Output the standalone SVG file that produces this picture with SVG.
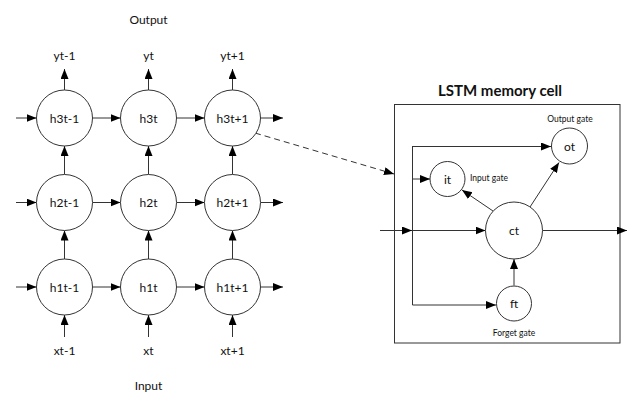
<svg xmlns="http://www.w3.org/2000/svg" width="636" height="404" viewBox="0 0 636 404">
<defs>
<marker id="ah" markerUnits="userSpaceOnUse" markerWidth="11" markerHeight="9" refX="10" refY="4" orient="auto">
<path d="M0,0 L10,4 L0,8 z" fill="#000"/>
</marker>
<style>
.n circle{fill:#fff;stroke:#333;stroke-width:1}
text{font-family:Lato,"Liberation Sans",sans-serif;fill:#111;text-anchor:middle;dominant-baseline:central}
.t{font-size:12px}
.s{font-size:8.5px}
.b{font-size:15px;font-weight:bold}
#conn line,#conn path{stroke:#333;stroke-width:1;fill:none;marker-end:url(#ah)}
#conn .p{marker-end:none}
</style>
</defs>
<rect width="636" height="404" fill="#fff"/>
<text class="t" x="148.5" y="19">Output</text>
<text class="t" x="148.5" y="385">Input</text>
<text class="t" x="64.5" y="55">yt-1</text>
<text class="t" x="148.5" y="55">yt</text>
<text class="t" x="232.5" y="55">yt+1</text>
<text class="t" x="64.5" y="350">xt-1</text>
<text class="t" x="148.5" y="350">xt</text>
<text class="t" x="232.5" y="350">xt+1</text>
<text class="b" x="500" y="90">LSTM memory cell</text>
<rect x="394.5" y="104.5" width="225.5" height="238.5" fill="none" stroke="#333"/>
<g id="conn">
<line x1="64.5" y1="90" x2="64.5" y2="69"/>
<line x1="148.5" y1="90" x2="148.5" y2="69"/>
<line x1="232.5" y1="90" x2="232.5" y2="69"/>
<line x1="64.5" y1="174.5" x2="64.5" y2="146"/>
<line x1="148.5" y1="174.5" x2="148.5" y2="146"/>
<line x1="232.5" y1="174.5" x2="232.5" y2="146"/>
<line x1="64.5" y1="259" x2="64.5" y2="230.5"/>
<line x1="148.5" y1="259" x2="148.5" y2="230.5"/>
<line x1="232.5" y1="259" x2="232.5" y2="230.5"/>
<line x1="64.5" y1="337" x2="64.5" y2="315"/>
<line x1="148.5" y1="337" x2="148.5" y2="315"/>
<line x1="232.5" y1="337" x2="232.5" y2="315"/>
<line x1="16" y1="118" x2="36.5" y2="118"/>
<line x1="92.5" y1="118" x2="120.5" y2="118"/>
<line x1="176.5" y1="118" x2="204.5" y2="118"/>
<line x1="260.5" y1="118" x2="283" y2="118"/>
<line x1="16" y1="202.5" x2="36.5" y2="202.5"/>
<line x1="92.5" y1="202.5" x2="120.5" y2="202.5"/>
<line x1="176.5" y1="202.5" x2="204.5" y2="202.5"/>
<line x1="260.5" y1="202.5" x2="283" y2="202.5"/>
<line x1="16" y1="287" x2="36.5" y2="287"/>
<line x1="92.5" y1="287" x2="120.5" y2="287"/>
<line x1="176.5" y1="287" x2="204.5" y2="287"/>
<line x1="260.5" y1="287" x2="283" y2="287"/>
<line x1="255" y1="133" x2="394" y2="174" stroke-dasharray="6,4"/>
<line x1="380" y1="230.5" x2="412" y2="230.5"/>
<line x1="412" y1="230.5" x2="485.5" y2="230.5"/>
<line x1="542.5" y1="230.5" x2="627" y2="230.5"/>
<path class="p" d="M412.5,305 L412.5,146"/>
<line x1="412.5" y1="146.5" x2="551" y2="146.5"/>
<line x1="412.5" y1="179" x2="430" y2="179"/>
<line x1="412.5" y1="305" x2="496" y2="305"/>
<line x1="493" y1="211" x2="462" y2="190"/>
<line x1="530" y1="207" x2="559" y2="162.5"/>
<line x1="514" y1="285.5" x2="514" y2="259"/>
</g>
<g id="h3t-1" class="n"><circle cx="64.5" cy="118" r="28"/><text class="t" x="64.5" y="118">h3t-1</text></g>
<g id="h3t" class="n"><circle cx="148.5" cy="118" r="28"/><text class="t" x="148.5" y="118">h3t</text></g>
<g id="h3t+1" class="n"><circle cx="232.5" cy="118" r="28"/><text class="t" x="232.5" y="118">h3t+1</text></g>
<g id="h2t-1" class="n"><circle cx="64.5" cy="202.5" r="28"/><text class="t" x="64.5" y="202.5">h2t-1</text></g>
<g id="h2t" class="n"><circle cx="148.5" cy="202.5" r="28"/><text class="t" x="148.5" y="202.5">h2t</text></g>
<g id="h2t+1" class="n"><circle cx="232.5" cy="202.5" r="28"/><text class="t" x="232.5" y="202.5">h2t+1</text></g>
<g id="h1t-1" class="n"><circle cx="64.5" cy="287" r="28"/><text class="t" x="64.5" y="287">h1t-1</text></g>
<g id="h1t" class="n"><circle cx="148.5" cy="287" r="28"/><text class="t" x="148.5" y="287">h1t</text></g>
<g id="h1t+1" class="n"><circle cx="232.5" cy="287" r="28"/><text class="t" x="232.5" y="287">h1t+1</text></g>
<g id="ct" class="n"><circle cx="514" cy="230.5" r="28.5"/><text class="t" x="514" y="230.5">ct</text></g>
<g id="it" class="n"><circle cx="447.5" cy="179" r="17.5"/><text class="t" x="447.5" y="179">it</text><text class="s" x="470" y="178" style="text-anchor:start">Input gate</text></g>
<g id="ot" class="n"><circle cx="569.5" cy="146" r="18"/><text class="t" x="569.5" y="146">ot</text><text class="s" x="570" y="118.5">Output gate</text></g>
<g id="ft" class="n"><circle cx="514" cy="303.5" r="17.5"/><text class="t" x="514" y="303.5">ft</text><text class="s" x="514" y="333">Forget gate</text></g>
</svg>
